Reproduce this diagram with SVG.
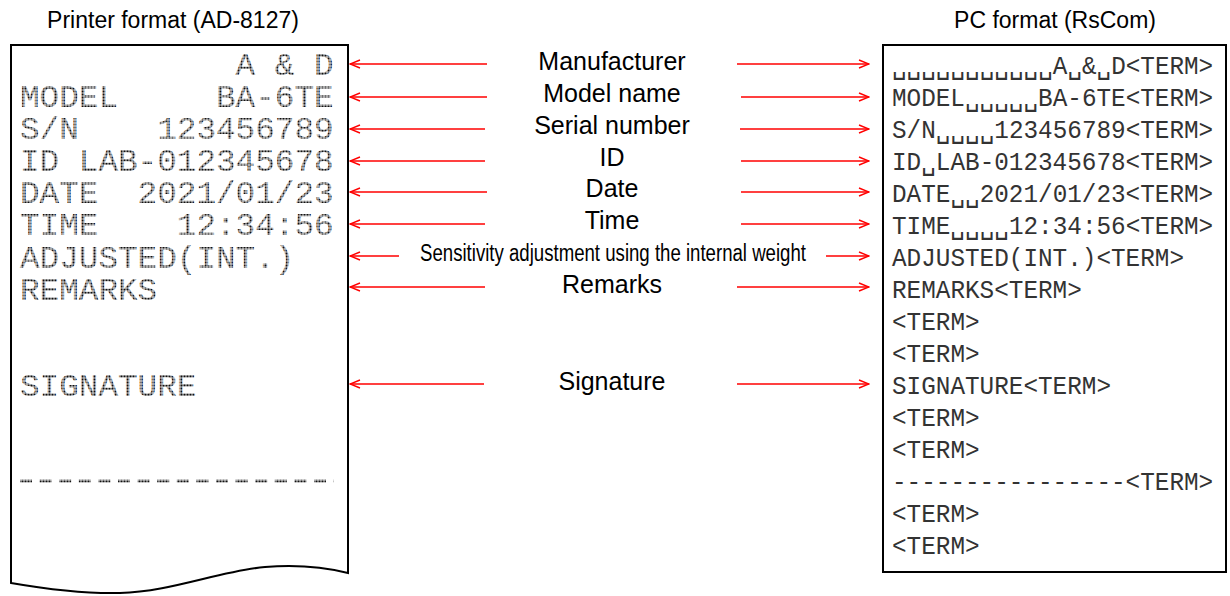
<svg xmlns="http://www.w3.org/2000/svg" width="1230" height="596" viewBox="0 0 1230 596">
<style>
.title{font-family:"Liberation Sans",Arial,sans-serif;font-size:23px;fill:#000;text-anchor:middle}
.lbl{font-family:"Liberation Sans",Arial,sans-serif;font-size:25px;fill:#000;text-anchor:middle}
.prn{font-family:"Liberation Mono","DejaVu Sans Mono",monospace;font-size:32px;fill:url(#dots)}
.pc{font-family:"Liberation Mono","DejaVu Sans Mono",monospace;font-size:25px;fill:#333}
.box{fill:#fff;stroke:#000;stroke-width:2}
.arr{stroke:#f00;stroke-width:1.4;fill:none;marker-end:url(#ah)}
</style>
<defs>
<pattern id="dots" patternUnits="userSpaceOnUse" x="0" y="0" width="3" height="3">
<rect x="0.4" y="0.4" width="2.2" height="2.2" fill="#111"/>
</pattern>
<marker id="ah" viewBox="0 0 12 10" refX="11" refY="5" markerWidth="12" markerHeight="10" markerUnits="userSpaceOnUse" orient="auto">
<path d="M1,1 L11,5 L1,9" fill="none" stroke="#f00" stroke-width="1.4"/>
</marker>
</defs>
<rect width="1230" height="596" fill="#fff"/>
<text class="title" x="173" y="28">Printer format (AD-8127)</text>
<text class="title" x="1055" y="28">PC format (RsCom)</text>
<g id="printer">
<path class="box" d="M11,45 H348 V573 C320,566 290,565 265,567 C220,571 170,592 120,593 C80,594 40,588 11,583 Z"/>
<text class="prn" x="235.6" y="75" xml:space="preserve" textLength="98" lengthAdjust="spacingAndGlyphs">A &amp; D</text>
<text class="prn" x="20" y="107" xml:space="preserve" textLength="313.6" lengthAdjust="spacingAndGlyphs">MODEL     BA-6TE</text>
<text class="prn" x="20" y="139" xml:space="preserve" textLength="313.6" lengthAdjust="spacingAndGlyphs">S/N    123456789</text>
<text class="prn" x="20" y="171" xml:space="preserve" textLength="313.6" lengthAdjust="spacingAndGlyphs">ID LAB-012345678</text>
<text class="prn" x="20" y="203" xml:space="preserve" textLength="313.6" lengthAdjust="spacingAndGlyphs">DATE  2021/01/23</text>
<text class="prn" x="20" y="235" xml:space="preserve" textLength="313.6" lengthAdjust="spacingAndGlyphs">TIME    12:34:56</text>
<text class="prn" x="20" y="268" textLength="274.4" lengthAdjust="spacingAndGlyphs">ADJUSTED(INT.)</text>
<text class="prn" x="20" y="300" textLength="137.2" lengthAdjust="spacingAndGlyphs">REMARKS</text>
<text class="prn" x="20" y="396" textLength="176.4" lengthAdjust="spacingAndGlyphs">SIGNATURE</text>
<line x1="20" y1="481" x2="334" y2="481" stroke="url(#dots)" stroke-width="3" stroke-dasharray="12 7.6"/>
</g>
<g id="pc">
<rect class="box" x="883" y="45" width="343" height="527"/>
<text class="pc" x="892" y="74" textLength="321.2" lengthAdjust="spacingAndGlyphs">␣␣␣␣␣␣␣␣␣␣␣A␣&amp;␣D&lt;TERM&gt;</text>
<text class="pc" x="892" y="106" textLength="321.2" lengthAdjust="spacingAndGlyphs">MODEL␣␣␣␣␣BA-6TE&lt;TERM&gt;</text>
<text class="pc" x="892" y="138" textLength="321.2" lengthAdjust="spacingAndGlyphs">S/N␣␣␣␣123456789&lt;TERM&gt;</text>
<text class="pc" x="892" y="170" textLength="321.2" lengthAdjust="spacingAndGlyphs">ID␣LAB-012345678&lt;TERM&gt;</text>
<text class="pc" x="892" y="202" textLength="321.2" lengthAdjust="spacingAndGlyphs">DATE␣␣2021/01/23&lt;TERM&gt;</text>
<text class="pc" x="892" y="234" textLength="321.2" lengthAdjust="spacingAndGlyphs">TIME␣␣␣␣12:34:56&lt;TERM&gt;</text>
<text class="pc" x="892" y="266" textLength="292" lengthAdjust="spacingAndGlyphs">ADJUSTED(INT.)&lt;TERM&gt;</text>
<text class="pc" x="892" y="298" textLength="189.8" lengthAdjust="spacingAndGlyphs">REMARKS&lt;TERM&gt;</text>
<text class="pc" x="892" y="330" textLength="87.6" lengthAdjust="spacingAndGlyphs">&lt;TERM&gt;</text>
<text class="pc" x="892" y="362" textLength="87.6" lengthAdjust="spacingAndGlyphs">&lt;TERM&gt;</text>
<text class="pc" x="892" y="394" textLength="219" lengthAdjust="spacingAndGlyphs">SIGNATURE&lt;TERM&gt;</text>
<text class="pc" x="892" y="426" textLength="87.6" lengthAdjust="spacingAndGlyphs">&lt;TERM&gt;</text>
<text class="pc" x="892" y="458" textLength="87.6" lengthAdjust="spacingAndGlyphs">&lt;TERM&gt;</text>
<text class="pc" x="892" y="490" textLength="321.2" lengthAdjust="spacingAndGlyphs">----------------&lt;TERM&gt;</text>
<text class="pc" x="892" y="522" textLength="87.6" lengthAdjust="spacingAndGlyphs">&lt;TERM&gt;</text>
<text class="pc" x="892" y="554" textLength="87.6" lengthAdjust="spacingAndGlyphs">&lt;TERM&gt;</text>
</g>
<g id="labels">
<text class="lbl" x="612" y="70">Manufacturer</text>
<text class="lbl" x="612" y="102">Model name</text>
<text class="lbl" x="612" y="134">Serial number</text>
<text class="lbl" x="612" y="166">ID</text>
<text class="lbl" x="612" y="197">Date</text>
<text class="lbl" x="612" y="229">Time</text>
<text class="lbl" x="613" y="261" style="font-size:23px" textLength="386" lengthAdjust="spacingAndGlyphs">Sensitivity adjustment using the internal weight</text>
<text class="lbl" x="612" y="293">Remarks</text>
<text class="lbl" x="612" y="390">Signature</text>
</g>
<g id="connectors">
<line class="arr" x1="487" y1="64" x2="350" y2="64"/>
<line class="arr" x1="737" y1="64" x2="869" y2="64"/>
<line class="arr" x1="487" y1="97" x2="350" y2="97"/>
<line class="arr" x1="741" y1="97" x2="869" y2="97"/>
<line class="arr" x1="485" y1="129" x2="350" y2="129"/>
<line class="arr" x1="740" y1="129" x2="869" y2="129"/>
<line class="arr" x1="485" y1="161" x2="350" y2="161"/>
<line class="arr" x1="741" y1="161" x2="869" y2="161"/>
<line class="arr" x1="487" y1="192" x2="350" y2="192"/>
<line class="arr" x1="741" y1="192" x2="869" y2="192"/>
<line class="arr" x1="485" y1="224" x2="350" y2="224"/>
<line class="arr" x1="741" y1="224" x2="869" y2="224"/>
<line class="arr" x1="399" y1="256" x2="350" y2="256"/>
<line class="arr" x1="826" y1="256" x2="869" y2="256"/>
<line class="arr" x1="485" y1="287" x2="350" y2="287"/>
<line class="arr" x1="737" y1="287" x2="869" y2="287"/>
<line class="arr" x1="484" y1="384" x2="350" y2="384"/>
<line class="arr" x1="737" y1="384" x2="869" y2="384"/>
</g>
</svg>
